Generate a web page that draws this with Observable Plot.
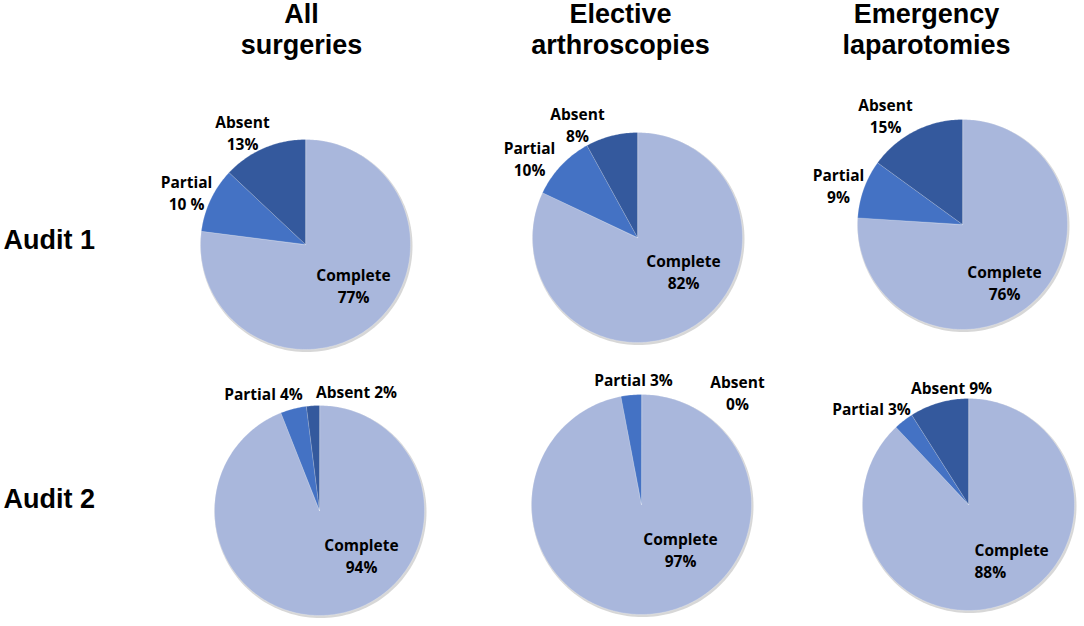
<!DOCTYPE html>
<html>
<head>
<meta charset="utf-8">
<script src="https://cdn.jsdelivr.net/npm/d3@7"></script>
<script src="https://cdn.jsdelivr.net/npm/@observablehq/plot@0.6"></script>
<style>
  html, body { margin: 0; padding: 0; background: #fff; }
  #chart { width: 1084px; height: 626px; }
</style>
</head>
<body>
<div id="chart"></div>
<script>
// ---- data ----
const categories = ["Complete", "Partial", "Absent"];
const columnTitles = [["All", "surgeries"], ["Elective", "arthroscopies"], ["Emergency", "laparotomies"]];
const rowTitles = ["Audit 1", "Audit 2"];
const audit1Values = [[77, 10, 13], [82, 10, 8], [76, 9, 15]];
const audit2Values = [[94, 4, 2], [97, 3, 0], [88, 3, 9]];
const audit1Labels = [
  [["Complete", "77%"], ["Partial", "10 %"], ["Absent", "13%"]],
  [["Complete", "82%"], ["Partial", "10%"], ["Absent", "8%"]],
  [["Complete", "76%"], ["Partial", "9%"], ["Absent", "15%"]]
];
const audit2Labels = [
  [["Complete", "94%"], ["Partial 4%"], ["Absent 2%"]],
  [["Complete", "97%"], ["Partial 3%"], ["Absent", "0%"]],
  [["Complete", "88%"], ["Partial 3%"], ["Absent 9%"]]
];

// ---- layout (not data) ----
const W = 1084, H = 626;
const colors = ["#A9B7DC", "#4472C4", "#34599D"];
const pieLayout = [
  {cx: 305, cy: 244, r: 105}, {cx: 637, cy: 237, r: 105}, {cx: 962, cy: 224, r: 105},
  {cx: 319, cy: 510, r: 105}, {cx: 641, cy: 504, r: 110}, {cx: 968, cy: 504, r: 106}
];
const headerX = [301, 620, 926];
const headerBaselines = [22, 53];
const rowLabelBaselines = [248, 507];
// label anchor offsets from pie centre: [dx, dy of first baseline, anchor]
const labelOffsets = [
  [[48, 36, "middle"], [-119, -57, "middle"], [-63, -117, "middle"]],
  [[46, 29, "middle"], [-108, -84, "middle"], [-60, -118, "middle"]],
  [[42, 53, "middle"], [-124, -44, "middle"], [-77, -114, "middle"]],
  [[42, 40, "middle"], [-56, -111, "middle"], [37, -113, "middle"]],
  [[39, 40, "middle"], [-8, -119, "middle"], [96, -117, "middle"]],
  [[6, 51, "start"], [-97, -90, "middle"], [-17, -111, "middle"]]
];
const labelLineGap = 22;

// ---- build tables ----
const allValues = [...audit1Values, ...audit2Values];
const allLabels = [...audit1Labels, ...audit2Labels];
const slices = [];
const discs = [];
const labels = [];
allValues.forEach((vals, p) => {
  const {cx, cy, r} = pieLayout[p];
  discs.push({p, cx, cy, r});
  const total = d3.sum(vals);
  let acc = 0;
  vals.forEach((v, k) => {
    const a0 = acc / total * 2 * Math.PI;
    acc += v;
    const a1 = acc / total * 2 * Math.PI;
    if (v > 0) {
      const id = `${p}-${k}`;
      slices.push({id, cat: categories[k], x: cx, y: cy});
      const n = Math.max(2, Math.ceil((a1 - a0) / (Math.PI / 180)));
      for (let i = 0; i <= n; i++) {
        const a = a0 + (a1 - a0) * i / n;
        slices.push({id, cat: categories[k], x: cx + r * Math.sin(a), y: cy - r * Math.cos(a)});
      }
    }
    const [dx, dy, anchor] = labelOffsets[p][k];
    allLabels[p][k].forEach((line, j) => {
      labels.push({text: line, x: cx + dx, y: cy + dy + j * labelLineGap, anchor});
    });
  });
});
// disc outlines for the soft shadow
const shadow = [];
discs.forEach(({p, cx, cy, r}) => {
  for (let i = 0; i <= 180; i++) {
    const a = i / 180 * 2 * Math.PI;
    shadow.push({p, x: cx + (r + 1) * Math.sin(a) + 1, y: cy - (r + 1) * Math.cos(a) + 1.5});
  }
});
const headers = [];
columnTitles.forEach((lines, c) => lines.forEach((t, j) => headers.push({text: t, x: headerX[c], y: headerBaselines[j]})));
const rowLabels = rowTitles.map((t, i) => ({text: t, x: 3, y: rowLabelBaselines[i]}));

const labelStyle = {x: "x", y: "y", text: "text", lineAnchor: "bottom",
  fontFamily: "'Open Sans', sans-serif", fontWeight: 700, fontSize: 15.5, fill: "#000"};

const chart = Plot.plot({
  width: W,
  height: H,
  margin: 0,
  x: {domain: [0, W], range: [0, W], axis: null},
  y: {domain: [0, H], range: [0, H], axis: null},
  color: {domain: categories, range: colors},
  style: {background: "#fff"},
  marks: [
    Plot.line(shadow, {x: "x", y: "y", z: "p", fill: "#8c8c8c", fillOpacity: 0.35, stroke: "none", curve: "linear-closed"}),
    Plot.line(slices, {x: "x", y: "y", z: "id", fill: "cat", stroke: "#ffffff", strokeOpacity: 0.35, strokeWidth: 0.6, curve: "linear-closed"}),
    Plot.text(labels.filter(d => d.anchor === "middle"), {...labelStyle, textAnchor: "middle"}),
    Plot.text(labels.filter(d => d.anchor === "start"), {...labelStyle, textAnchor: "start"}),
    Plot.text(headers, {x: "x", y: "y", text: "text", textAnchor: "middle", lineAnchor: "bottom",
      fontFamily: "'Liberation Sans', Arial, sans-serif", fontWeight: 700, fontSize: 27, fill: "#000"}),
    Plot.text(rowLabels, {x: "x", y: "y", text: "text", textAnchor: "start", lineAnchor: "bottom",
      fontFamily: "'Liberation Sans', Arial, sans-serif", fontWeight: 700, fontSize: 27, fill: "#000"})
  ]
});
document.getElementById("chart").appendChild(chart);
</script>
</body>
</html>
